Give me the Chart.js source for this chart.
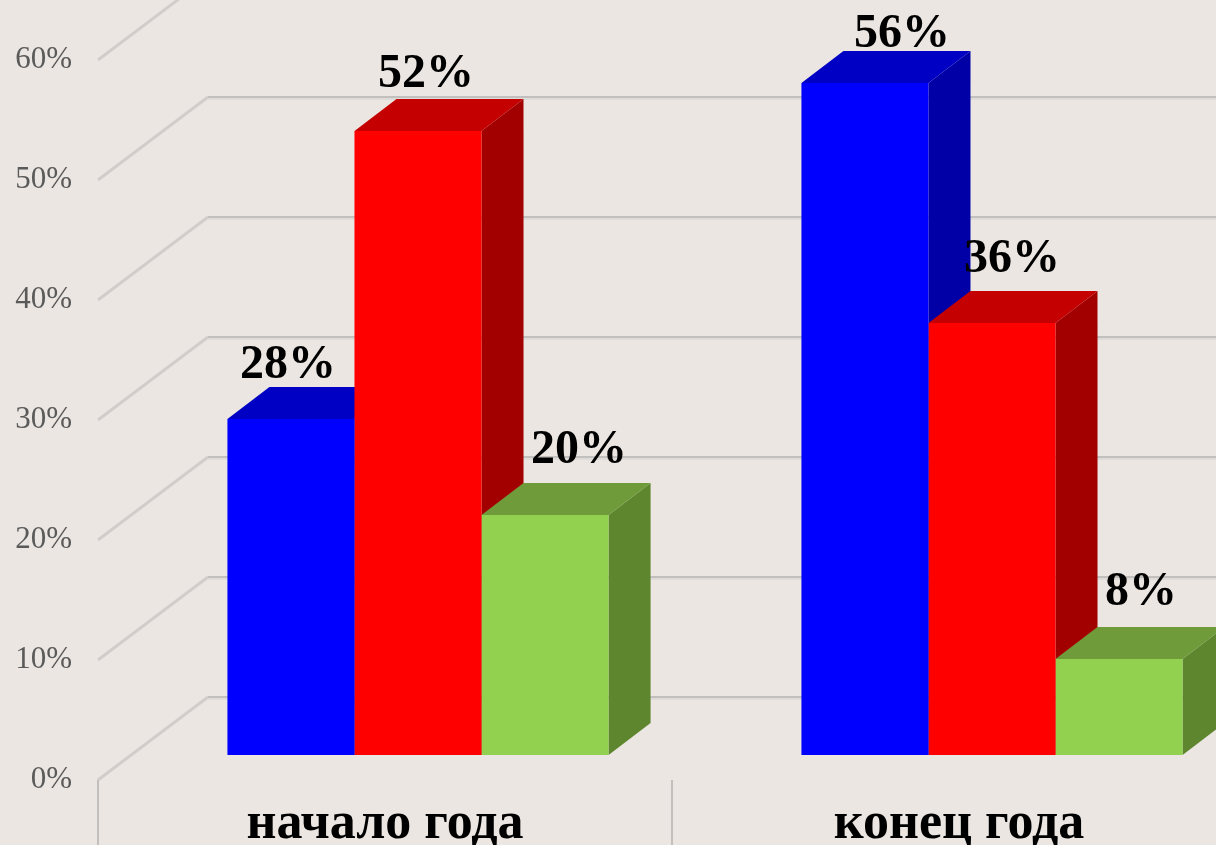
<!DOCTYPE html>
<html lang="ru">
<head>
<meta charset="utf-8">
<title>начало года / конец года</title>
<script src="https://cdn.jsdelivr.net/npm/chart.js@4"></script>
<style>
  html, body { margin: 0; padding: 0; background: #ebe6e2; overflow: hidden; }
  #wrap { width: 1300px; height: 845px; }
</style>
</head>
<body>
<div id="wrap"><canvas id="chart" width="1300" height="845"></canvas></div>
<script>
// ---- Data ----
const categories = ["начало года", "конец года"];
const blueValues = [28, 56];
const redValues = [52, 36];
const greenValues = [20, 8];
const yTicks = [0, 10, 20, 30, 40, 50, 60];

// ---- Look ----
const series = [
  { data: blueValues, front: "#0000ff", top: "#0000c4", side: "#0000a6" },
  { data: redValues, front: "#ff0000", top: "#c40000", side: "#a20000" },
  { data: greenValues, front: "#92d050", top: "#709b3a", side: "#5e862f" },
];
// label nudges (px) relative to bar top centre, per series / category
const labelNudge = [
  [[-3, -41], [37, -36]],
  [[8, -44], [20, -51]],
  [[34, -52], [22, -54]],
];
const BAR_DX = 42, BAR_DY = -32;      // bar depth
const FLOOR_DX = 110, FLOOR_DY = -83; // full floor depth
const FRONT_SHIFT_X = -33, FRONT_SHIFT_Y = 25; // front plane vs bar front

// ---- 3D plugin ----
const threeD = {
  id: "threeD",
  beforeDatasetsDraw(chart) {
    const ctx = chart.ctx;
    const x = chart.scales.x, y = chart.scales.y;
    const fx = x.left + FRONT_SHIFT_X;
    ctx.save();
    // grid: diagonal on left wall + back wall lines
    yTicks.forEach((v) => {
      const yf = y.getPixelForValue(v) + FRONT_SHIFT_Y;
      const bx = fx + FLOOR_DX, by = yf + FLOOR_DY;
      ctx.strokeStyle = "#d0cdca";
      ctx.lineWidth = 3;
      ctx.beginPath();
      ctx.moveTo(fx, yf);
      ctx.lineTo(bx, by);
      ctx.stroke();
      ctx.strokeStyle = "#c2c0be";
      ctx.lineWidth = 2;
      ctx.beginPath();
      ctx.moveTo(bx, by);
      ctx.lineTo(chart.width, by);
      ctx.stroke();
      ctx.strokeStyle = "#dedbd8";
      ctx.lineWidth = 2;
      ctx.beginPath();
      ctx.moveTo(bx, by + 2);
      ctx.lineTo(chart.width, by + 2);
      ctx.stroke();
    });
    // category separators on the floor front
    const y0 = y.getPixelForValue(0) + FRONT_SHIFT_Y;
    const mid = (x.getPixelForValue(0) + x.getPixelForValue(1)) / 2 + FRONT_SHIFT_X;
    ctx.strokeStyle = "#c2c0be";
    ctx.lineWidth = 2;
    [fx, mid].forEach((px) => {
      ctx.beginPath();
      ctx.moveTo(px, y0);
      ctx.lineTo(px, chart.height);
      ctx.stroke();
    });
    // side and top faces, series order so later bars cover earlier sides
    for (let c = 0; c < categories.length; c++) {
      series.forEach((s, i) => {
        const bar = chart.getDatasetMeta(i).data[c];
        const l = bar.x - bar.width / 2, r = bar.x + bar.width / 2;
        const t = bar.y, b = bar.base;
        ctx.fillStyle = s.side;
        ctx.beginPath();
        ctx.moveTo(r, t);
        ctx.lineTo(r + BAR_DX, t + BAR_DY);
        ctx.lineTo(r + BAR_DX, b + BAR_DY);
        ctx.lineTo(r, b);
        ctx.closePath();
        ctx.fill();
        ctx.fillStyle = s.top;
        ctx.beginPath();
        ctx.moveTo(l, t);
        ctx.lineTo(l + BAR_DX, t + BAR_DY);
        ctx.lineTo(r + BAR_DX, t + BAR_DY);
        ctx.lineTo(r, t);
        ctx.closePath();
        ctx.fill();
      });
    }
    ctx.restore();
  },
  afterDatasetsDraw(chart) {
    const ctx = chart.ctx;
    const x = chart.scales.x, y = chart.scales.y;
    ctx.save();
    // y tick labels on the front-left edge
    ctx.font = '31px "Liberation Serif", "Times New Roman", serif';
    ctx.fillStyle = "#5a5a5a";
    ctx.textAlign = "right";
    ctx.textBaseline = "middle";
    yTicks.forEach((v) => {
      ctx.fillText(v + "%", 72, y.getPixelForValue(v) + FRONT_SHIFT_Y);
    });
    // category labels
    ctx.font = 'bold 52px "Liberation Serif", "Times New Roman", serif';
    ctx.fillStyle = "#000";
    ctx.textAlign = "center";
    ctx.textBaseline = "alphabetic";
    categories.forEach((cat, c) => {
      ctx.fillText(cat, x.getPixelForValue(c) + FRONT_SHIFT_X, 838);
    });
    // value labels
    ctx.font = 'bold 48px "Liberation Serif", "Times New Roman", serif';
    series.forEach((s, i) => {
      chart.getDatasetMeta(i).data.forEach((bar, c) => {
        const n = labelNudge[i][c];
        ctx.fillText(s.data[c] + "%", bar.x + n[0], bar.y + n[1]);
      });
    });
    ctx.restore();
  },
};

// ---- Chart ----
new Chart(document.getElementById("chart"), {
  type: "bar",
  data: {
    labels: categories,
    datasets: series.map((s, i) => ({
      label: "Ряд " + (i + 1),
      data: s.data,
      backgroundColor: s.front,
      borderWidth: 0,
      categoryPercentage: 0.664,
      barPercentage: 1,
    })),
  },
  options: {
    responsive: false,
    animation: false,
    events: [],
    layout: { padding: { left: 131, right: 21, top: 35, bottom: 90 } },
    plugins: { legend: { display: false }, tooltip: { enabled: false } },
    scales: {
      x: { display: false },
      y: { display: false, min: 0, max: 60, ticks: { stepSize: 10 } },
    },
  },
  plugins: [threeD],
});
</script>
</body>
</html>
